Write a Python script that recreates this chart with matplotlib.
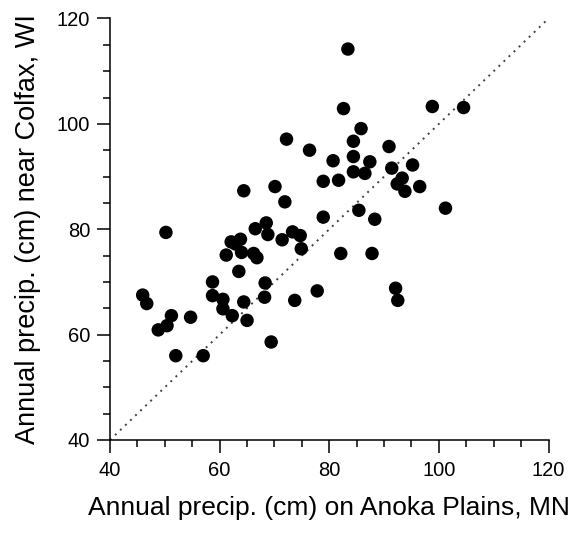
import numpy as np
import matplotlib.pyplot as plt
from matplotlib.ticker import MultipleLocator

plt.rcParams['font.family'] = ['Liberation Sans', 'DejaVu Sans']

# Annual precipitation (cm), paired years
anoka = [45.96, 46.7, 48.8, 50.4, 51.2, 50.2, 52.0, 54.7, 57.0, 58.7,
         58.7, 60.6, 60.6, 62.3, 61.2, 62.1, 62.9, 63.8, 64.0, 63.5,
         64.4, 65.0, 64.4, 66.2, 66.8, 66.5, 68.5, 68.8, 68.2, 68.3,
         69.4, 70.1, 71.4, 71.9, 72.2, 73.3, 74.7, 74.9, 73.7, 76.4,
         77.8, 78.9, 78.9, 80.7, 81.7, 82.1, 82.6, 83.4, 84.4, 84.4,
         84.4, 85.8, 85.4, 86.5, 87.4, 87.8, 88.3, 90.9, 91.4, 92.1,
         92.5, 92.4, 93.3, 93.8, 95.2, 96.5, 98.8, 101.2, 104.5]
colfax = [67.5, 65.9, 60.9, 61.7, 63.6, 79.4, 56.0, 63.3, 56.0, 70.0,
          67.4, 66.7, 64.9, 63.6, 75.1, 77.6, 77.2, 78.1, 75.6, 72.0,
          66.2, 62.7, 87.3, 75.4, 74.6, 80.1, 81.2, 79.0, 67.1, 69.8,
          58.6, 88.1, 78.0, 85.2, 97.1, 79.5, 78.8, 76.3, 66.5, 95.0,
          68.3, 82.3, 89.1, 93.0, 89.3, 75.4, 102.9, 114.2, 96.7, 93.8,
          90.9, 99.1, 83.6, 90.6, 92.8, 75.4, 81.9, 95.7, 91.6, 68.8,
          66.5, 88.6, 89.7, 87.2, 92.2, 88.1, 103.3, 84.0, 103.1]
one_to_one = [40, 120]

fig = plt.figure(figsize=(5.76, 5.33), dpi=100)
ax = fig.add_axes([0.191, 0.1745, 0.7613, 0.7908])

ax.plot(one_to_one, one_to_one, color='#404040', linestyle=(0, (1, 2.6)),
        linewidth=1.4, zorder=1)
ax.scatter(anoka, colfax, s=94, color='black', edgecolors='none', zorder=2,
           clip_on=False)

ax.set_xlim(40, 120)
ax.set_ylim(40, 120)
ax.xaxis.set_major_locator(MultipleLocator(20))
ax.xaxis.set_minor_locator(MultipleLocator(5))
ax.yaxis.set_major_locator(MultipleLocator(20))
ax.yaxis.set_minor_locator(MultipleLocator(5))
ax.spines['top'].set_visible(False)
ax.spines['right'].set_visible(False)
for side in ['left', 'bottom']:
    ax.spines[side].set_linewidth(1.1)
ax.tick_params(which='major', direction='out', length=9.4, width=1.1, labelsize=14.5)
ax.tick_params(which='minor', direction='out', length=4.8, width=1.1)
ax.tick_params(axis='x', which='major', pad=6)
ax.tick_params(axis='y', which='major', pad=5)

ax.set_xlabel('Annual precip. (cm) on Anoka Plains, MN', fontsize=19, labelpad=11)
ax.set_ylabel('Annual precip. (cm) near Colfax, WI', fontsize=19.5, labelpad=11)

fig.savefig('out.png', dpi=100)
